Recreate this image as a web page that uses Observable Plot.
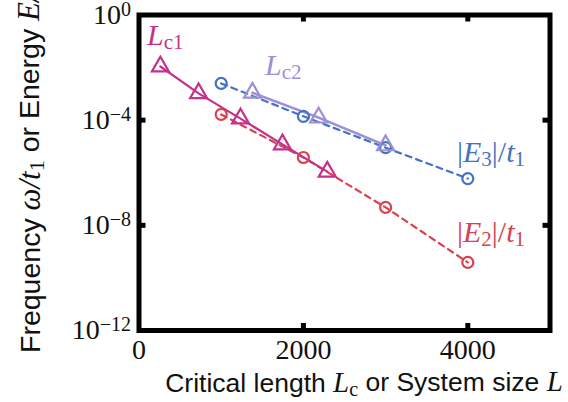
<!DOCTYPE html>
<html><head><meta charset="utf-8">
<script src="https://cdn.jsdelivr.net/npm/d3@7"></script>
<script src="https://cdn.jsdelivr.net/npm/@observablehq/plot@0.6"></script>
<style>
body{margin:0;background:#fff;}
#chart svg{overflow:visible}
</style></head><body><div id="chart"></div>
<script>
// Critical lengths (triangles, solid lines)
const lc1X = [260, 725, 1235, 1745, 2290];
const lc1Y = [1.1e-2, 1.05e-3, 1.15e-4, 1.2e-5, 1.1e-6];
const lc2X = [1380, 2185, 3000];
const lc2Y = [1.1e-3, 1.25e-4, 1.1e-5];
// Energies vs system size (circles, dashed lines)
const sizeL = [1000, 2000, 3000, 4000];
const e3Y = [2.5e-3, 1.4e-4, 9e-6, 6e-7];
const e2Y = [1.65e-4, 3.8e-6, 4.8e-8, 3.9e-10];
// ticks
const xTicks = [0, 2000, 4000];
const xMinor = [2000, 4000];
const yTicks = [1e0, 1e-4, 1e-8, 1e-12];
const yTickExp = ["0", "\u22124", "\u22128", "\u221212"];
const yMinor = [1e-4, 1e-8];
// series label anchors (data coords, left baseline)
const labelX = [103, 1540, 3875, 3875];
const labelY = [0.069, 5e-3, 2.5e-6, 2.2e-9];

const C = {lc1: "#c4318b", lc2: "#9d8fd6", e3: "#4472c4", e2: "#d8424f"};

const lc1 = lc1X.map((x, i) => ({x, y: lc1Y[i]}));
const lc2 = lc2X.map((x, i) => ({x, y: lc2Y[i]}));
const e3 = sizeL.map((x, i) => ({x, y: e3Y[i]}));
const e2 = sizeL.map((x, i) => ({x, y: e2Y[i]}));

const serif = "'Liberation Serif', 'DejaVu Serif', serif";
const sans = "'Liberation Sans', Arial, sans-serif";

const W = 568, H = 402, mL = 138.5, mR = 18.5, mT = 14.5, mB = 72, tickLen = 7;
const innerW = W - mL - mR, innerH = H - mT - mB;

const plot = Plot.plot({
  width: W, height: H,
  marginLeft: mL, marginRight: mR, marginTop: mT, marginBottom: mB,
  x: {domain: [0, 5000]},
  y: {type: "log", domain: [1e-12, 1]},
  style: {background: "transparent", overflow: "visible", fontFamily: serif},
  marks: [
    Plot.line(e2, {x: "x", y: "y", stroke: C.e2, strokeWidth: 2.2, strokeDasharray: "6,5"}),
    Plot.line(e3, {x: "x", y: "y", stroke: C.e3, strokeWidth: 2.2, strokeDasharray: "6,5"}),
    Plot.line(lc1, {x: "x", y: "y", stroke: C.lc1, strokeWidth: 2.2}),
    Plot.line(lc2, {x: "x", y: "y", stroke: C.lc2, strokeWidth: 2.6}),
    Plot.dot(e2, {x: "x", y: "y", r: 5.5, stroke: C.e2, strokeWidth: 2.2, fill: "none"}),
    Plot.dot(e3, {x: "x", y: "y", r: 5.5, stroke: C.e3, strokeWidth: 2.2, fill: "none"}),
    Plot.dot(lc1, {x: "x", y: "y", r: 6.3, symbol: "triangle", stroke: C.lc1, strokeWidth: 2.2, fill: "none"}),
    Plot.dot(lc2, {x: "x", y: "y", r: 6.3, symbol: "triangle", stroke: C.lc2, strokeWidth: 2.2, fill: "none"}),
    // inward ticks on all four sides
    Plot.ruleX(xMinor, {stroke: "black", strokeWidth: 5, insetBottom: innerH - tickLen}),
    Plot.ruleX(xMinor, {stroke: "black", strokeWidth: 5, insetTop: innerH - tickLen}),
    Plot.ruleY(yMinor, {stroke: "black", strokeWidth: 5, insetRight: innerW - tickLen}),
    Plot.ruleY(yMinor, {stroke: "black", strokeWidth: 5, insetLeft: innerW - tickLen}),
    Plot.frame({stroke: "black", strokeWidth: 5}),
    Plot.axisX(xTicks, {anchor: "bottom", tickSize: 0, tickPadding: 9, fontSize: 28, label: null, tickFormat: d => String(d), fill: "#111"}),
    Plot.axisY(yTicks, {anchor: "left", tickSize: 0, tickPadding: 8, fontSize: 28, label: null, tickFormat: () => "10", fill: "#111"})
  ]
});
document.getElementById("chart").appendChild(plot);

const svg = d3.select(plot);
// superscripts on the y tick labels
let k = 0;
svg.selectAll('g[aria-label="y-axis tick label"] text').each(function() {
  if (this.textContent !== "10") return;
  d3.select(this).append("tspan").attr("dy", "-0.42em").attr("font-size", 20).text(yTickExp[k++]);
});

const sx = plot.scale("x"), sy = plot.scale("y");

// series labels
function mathLabel(i, color, parts) {
  const t = svg.append("text")
    .attr("x", sx.apply(labelX[i])).attr("y", sy.apply(labelY[i]))
    .attr("text-anchor", "start")
    .attr("fill", color).attr("font-family", serif).attr("font-size", 30);
  for (const p of parts) {
    const s = t.append("tspan").text(p.t);
    if (p.it) s.attr("font-style", "italic");
    if (p.sub) s.attr("font-size", 21).attr("dy", "0.2em");
    if (p.up) s.attr("dy", "-0.14em");
  }
  return t;
}
mathLabel(0, C.lc1, [{t: "L", it: 1}, {t: "c1", sub: 1}]);
mathLabel(1, C.lc2, [{t: "L", it: 1}, {t: "c2", sub: 1}]);
mathLabel(2, C.e3, [{t: "|"}, {t: "E", it: 1}, {t: "3", sub: 1}, {t: "|/", up: 1}, {t: "t", it: 1}, {t: "1", sub: 1}]);
mathLabel(3, C.e2, [{t: "|"}, {t: "E", it: 1}, {t: "2", sub: 1}, {t: "|/", up: 1}, {t: "t", it: 1}, {t: "1", sub: 1}]);

// axis titles
const xl = svg.append("text").attr("x", 364).attr("y", 392).attr("text-anchor", "middle")
  .attr("font-family", sans).attr("font-size", 26.5).attr("fill", "#111");
xl.append("tspan").text("Critical length ");
xl.append("tspan").text("L").attr("font-family", serif).attr("font-style", "italic").attr("font-size", 29);
xl.append("tspan").text("c").attr("font-family", serif).attr("font-size", 20).attr("dy", "0.2em");
xl.append("tspan").text(" or System size ").attr("dy", "-0.2em");
xl.append("tspan").text("L").attr("font-family", serif).attr("font-style", "italic").attr("font-size", 29);

const yl = svg.append("text").attr("transform", "translate(40,353) rotate(-90)").attr("text-anchor", "start")
  .attr("font-family", sans).attr("font-size", 28.5).attr("fill", "#111");
yl.append("tspan").text("Frequency ");
yl.append("tspan").text("\u03c9/").attr("font-family", serif).attr("font-style", "italic").attr("font-size", 31);
yl.append("tspan").text("t").attr("font-family", serif).attr("font-style", "italic").attr("font-size", 31);
yl.append("tspan").text("1").attr("font-family", serif).attr("font-size", 22).attr("dy", "0.2em");
yl.append("tspan").text(" or Energy ").attr("dy", "-0.2em");
yl.append("tspan").text("E/").attr("font-family", serif).attr("font-style", "italic").attr("font-size", 31);
yl.append("tspan").text("t").attr("font-family", serif).attr("font-style", "italic").attr("font-size", 31);
yl.append("tspan").text("1").attr("font-family", serif).attr("font-size", 22).attr("dy", "0.2em");
</script></body></html>
